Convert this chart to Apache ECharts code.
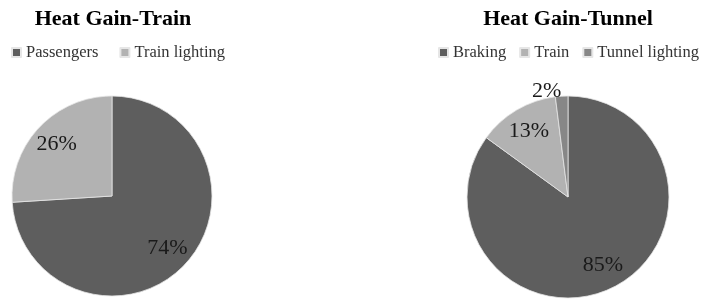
<!DOCTYPE html>
<html>
<head>
<meta charset="utf-8">
<script src="https://cdn.jsdelivr.net/npm/echarts@6/dist/echarts.min.js"></script>
<style>
    html, body { margin: 0; padding: 0; background: #fff; }
    #chart { width: 703px; height: 302px; }
</style>
</head>
<body>
<div id="chart"></div>
<script>
    // data (percent)
    const trainNames = ['Passengers', 'Train lighting'];
    const trainValues = [74, 26];
    const tunnelNames = ['Braking', 'Train', 'Tunnel lighting'];
    const tunnelValues = [85, 13, 2];

    const trainColors = ['#5e5e5e', '#b2b2b2'];
    const tunnelColors = ['#5e5e5e', '#b2b2b2', '#878787'];

    const serif = '"Liberation Serif", "DejaVu Serif", serif';

    function mainData(names, values, colors) {
        return names.map((n, i) => ({
            name: n,
            value: values[i],
            itemStyle: { color: colors[i] },
            // tiny slices get their label outside, like the original
            label: { show: values[i] < 5 }
        }));
    }
    function labelData(names, values) {
        return names.map((n, i) => ({
            name: n,
            value: values[i],
            label: { show: values[i] >= 5 }
        }));
    }

    function pieMain(names, values, colors, center, r) {
        return {
            type: 'pie',
            center: center,
            radius: [0, r],
            startAngle: 90,
            clockwise: true,
            animation: false,
            itemStyle: { borderColor: '#e6e6e6', borderWidth: 0.8 },
            label: {
                position: 'outside',
                formatter: '{c}%',
                fontFamily: serif,
                fontSize: 22,
                color: '#1a1a1a',
                distanceToLabelLine: 0
            },
            labelLine: { show: false, length: 5, length2: 0 },
            emphasis: { disabled: true },
            data: mainData(names, values, colors)
        };
    }
    // transparent ring used only to put inside labels further out
    function pieLabels(names, values, center, r) {
        return {
            type: 'pie',
            center: center,
            radius: [r * 0.46, r],
            startAngle: 90,
            clockwise: true,
            animation: false,
            silent: true,
            itemStyle: { color: 'rgba(0,0,0,0)', borderWidth: 0 },
            label: {
                position: 'inside',
                formatter: '{c}%',
                fontFamily: serif,
                fontSize: 22,
                color: '#1a1a1a'
            },
            labelLine: { show: false },
            emphasis: { disabled: true },
            data: labelData(names, values)
        };
    }

    const chart = echarts.init(document.getElementById('chart'));
    const legendText = { fontFamily: serif, fontSize: 16.5, color: '#333' };

    const option = {
        backgroundColor: '#fff',
        title: [
            {
                text: 'Heat Gain-Train',
                left: 108, top: 3, textAlign: 'center',
                textStyle: { fontFamily: serif, fontSize: 22, fontWeight: 'bold', color: '#000' }
            },
            {
                text: 'Heat Gain-Tunnel',
                left: 563, top: 3, textAlign: 'center',
                textStyle: { fontFamily: serif, fontSize: 22, fontWeight: 'bold', color: '#000' }
            }
        ],
        legend: [
            {
                data: trainNames,
                left: 11, top: 44, padding: 0,
                icon: 'rect', itemWidth: 9, itemHeight: 9, itemGap: 21,
                textStyle: legendText,
                selectedMode: false
            },
            {
                data: tunnelNames,
                left: 438, top: 44, padding: 0, width: 320,
                icon: 'rect', itemWidth: 9, itemHeight: 9, itemGap: 13,
                textStyle: legendText,
                selectedMode: false
            }
        ],
        series: [
            pieMain(trainNames, trainValues, trainColors, [112, 196], 100),
            pieMain(tunnelNames, tunnelValues, tunnelColors, [568, 197], 101),
            pieLabels(trainNames, trainValues, [112, 196], 100),
            pieLabels(tunnelNames, tunnelValues, [568, 197], 101)
        ]
    };
    chart.setOption(option);
</script>
</body>
</html>
